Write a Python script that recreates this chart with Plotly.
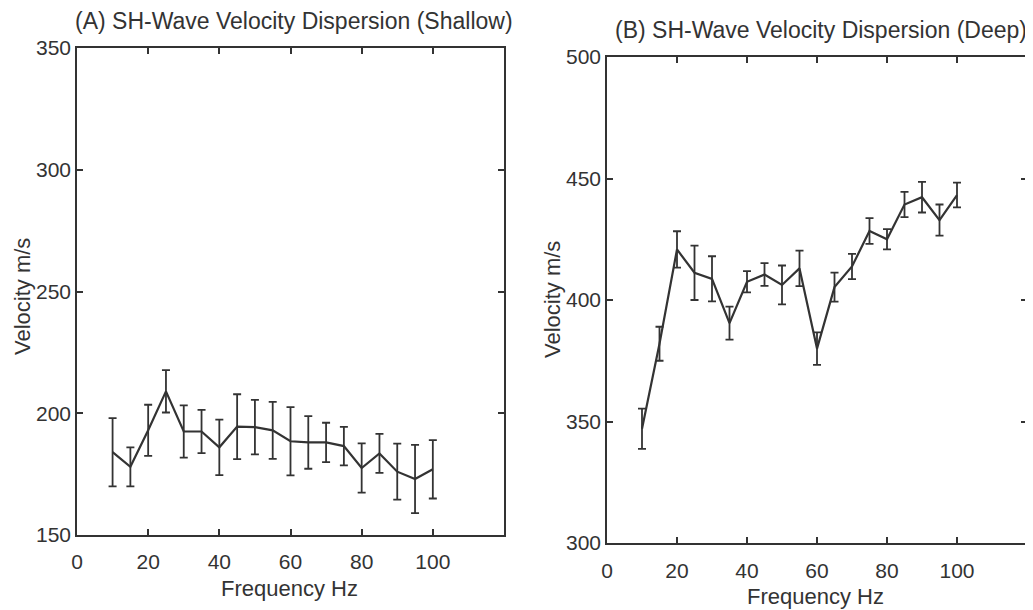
import plotly.graph_objects as go

freq = [10, 15, 20, 25, 30, 35, 40, 45, 50, 55, 60, 65, 70, 75, 80, 85, 90, 95, 100]

shallow_vel = [184, 178, 193, 209, 192.5, 192.5, 186, 194.5, 194.3, 193, 188.5, 188, 188, 186.5, 177.5, 183.5, 176, 173, 177]
shallow_err = [14, 8, 10.5, 8.7, 10.7, 8.9, 11.4, 13.3, 11.2, 11.7, 14, 10.8, 8.1, 7.9, 10.1, 8, 11.5, 14, 12]

deep_vel = [347, 382, 420.8, 411.2, 408.7, 390.5, 407.5, 410.5, 406.2, 413, 380, 405.3, 413.8, 428.4, 425, 439.3, 442.3, 432.9, 443.2]
deep_err = [8.3, 7, 7.5, 11.2, 9.3, 6.8, 4.4, 4.7, 8, 7.3, 6.7, 6, 5.2, 5.3, 4.2, 5.2, 6.3, 6.4, 5.1]

x_ticks = [0, 20, 40, 60, 80, 100]
shallow_yticks = [150, 200, 250, 300, 350]
deep_yticks = [300, 350, 400, 450, 500]

titles = ["(A) SH-Wave Velocity Dispersion (Shallow)", "(B) SH-Wave Velocity Dispersion (Deep)"]
x_title = "Frequency Hz"
y_title = "Velocity m/s"

# page body has an 8px margin: the figure starts at (8, 8) in the window
OFF = 8
W, H = 1033 - OFF, 610 - OFF
ink = "#333333"
family = "Liberation Sans, Arial, sans-serif"
tick_font = dict(family=family, size=21, color=ink)
label_font = dict(family=family, size=22, color=ink)
title_font = dict(family=family, size=23, color=ink)


def px(xw):
    return (xw - OFF) / W


def py(yw):
    return 1 - (yw - OFF) / H


fig = go.Figure()


def add_series(y, err, xa, ya):
    fig.add_trace(go.Scatter(
        x=freq, y=y, mode="lines", xaxis=xa, yaxis=ya,
        line=dict(color=ink, width=2.2),
        error_y=dict(type="data", array=err, visible=True, color=ink, thickness=1.8, width=4),
        showlegend=False,
    ))


add_series(shallow_vel, shallow_err, "x", "y")
add_series(deep_vel, deep_err, "x2", "y2")

axis_common = dict(
    showline=True, linecolor=ink, linewidth=1.6, mirror="ticks",
    ticks="inside", ticklen=6, tickwidth=1.6, tickcolor=ink,
    showgrid=False, zeroline=False, tickfont=tick_font, automargin=False,
)

fig.update_layout(
    width=W, height=H,
    template="none",
    margin=dict(l=0, r=0, t=0, b=0, pad=0),
    paper_bgcolor="white", plot_bgcolor="white",
    font=tick_font,
    xaxis=dict(domain=[px(77), px(504)], range=[0, 120], tickvals=x_ticks,
               ticklabelstandoff=7, anchor="y", **axis_common),
    yaxis=dict(domain=[py(535), py(48)], range=[150, 350], tickvals=shallow_yticks,
               anchor="x", **axis_common),
    xaxis2=dict(domain=[px(607), px(1027)], range=[0, 120], tickvals=x_ticks,
                ticklabelstandoff=8, anchor="y2", **axis_common),
    yaxis2=dict(domain=[py(543), py(57)], range=[300, 500], tickvals=deep_yticks,
                anchor="x2", **axis_common),
)

# panel titles and axis titles placed at measured window-pixel positions
texts = [
    (titles[0], 294, 21, 0, title_font),
    (titles[1], 821, 30, 0, title_font),
    (x_title, 289, 588, 0, label_font),
    (x_title, 815, 596, 0, label_font),
    (y_title, 22, 297, -90, label_font),
    (y_title, 552, 300, -90, label_font),
]
for txt, xw, yw, ang, fnt in texts:
    fig.add_annotation(text=txt, x=px(xw), y=py(yw), xref="paper", yref="paper",
                       showarrow=False, textangle=ang, font=fnt,
                       xanchor="center", yanchor="middle")

fig.write_html("out.html")
